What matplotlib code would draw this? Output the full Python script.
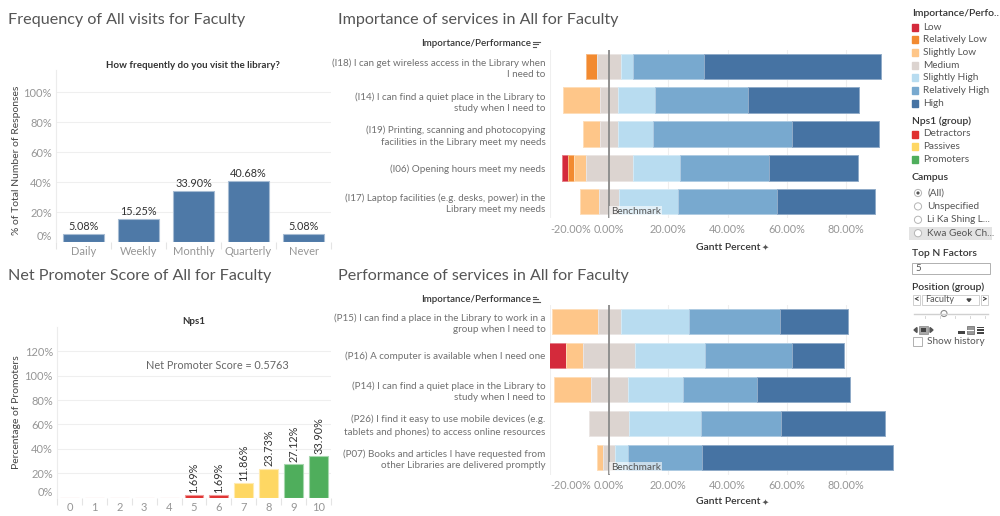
import matplotlib
matplotlib.use("Agg")
import matplotlib.pyplot as plt
import numpy as np
from matplotlib.patches import Rectangle, Circle, Polygon
from matplotlib.lines import Line2D
from matplotlib.transforms import blended_transform_factory

# ---------------- data ----------------
freq_categories = ["Daily", "Weekly", "Monthly", "Quarterly", "Never"]
freq_values = [5.08, 15.25, 33.90, 40.68, 5.08]

nps_scores = list(range(11))
nps_values = [0, 0, 0, 0, 0, 1.69, 1.69, 11.86, 23.73, 27.12, 33.90]
nps_groups = ["Detractors"] * 7 + ["Passives"] * 2 + ["Promoters"] * 2
nps_score_text = "0.5763"

levels = ["Low", "Relatively Low", "Slightly Low", "Medium",
          "Slightly High", "Relatively High", "High"]

importance_items = [
    "(I18) I can get wireless access in the Library when\nI need to",
    "(I14) I can find a quiet place in the Library to\nstudy when I need to",
    "(I19) Printing, scanning and photocopying\nfacilities in the Library meet my needs",
    "(I06) Opening hours meet my needs",
    "(I17) Laptop facilities (e.g. desks, power) in the\nLibrary meet my needs",
]
imp_low = [0, 0, 0, 2.0, 0]
imp_rel_low = [4.0, 0, 0, 2.0, 0]
imp_slightly_low = [0, 12.5, 5.88, 4.0, 6.67]
imp_medium = [8.0, 6.25, 5.88, 16.0, 6.67]
imp_slightly_high = [4.0, 12.5, 11.76, 16.0, 20.0]
imp_rel_high = [24.0, 31.25, 47.06, 30.0, 33.33]
imp_high = [60.0, 37.5, 29.41, 30.0, 33.33]

performance_items = [
    "(P15) I can find a place in the Library to work in a\ngroup when I need to",
    "(P16) A computer is available when I need one",
    "(P14) I can find a quiet place in the Library to\nstudy when I need to",
    "(P26) I find it easy to use mobile devices (e.g.\ntablets and phones) to access online resources",
    "(P07) Books and articles I have requested from\nother Libraries are delivered promptly",
]
perf_low = [0, 5.88, 0, 0, 0]
perf_rel_low = [0, 0, 0, 0, 0]
perf_slightly_low = [15.38, 5.88, 12.5, 0, 2.08]
perf_medium = [7.69, 17.65, 12.5, 13.51, 4.17]
perf_slightly_high = [23.08, 23.53, 18.75, 24.32, 4.17]
perf_rel_high = [30.77, 29.41, 25.0, 27.03, 25.0]
perf_high = [23.08, 17.65, 31.25, 35.14, 64.58]

gantt_ticks = [-20, 0, 20, 40, 60, 80]

# ---------------- style ----------------
level_colors = {
    "Low": "#d42a3b",
    "Relatively Low": "#f28a30",
    "Slightly Low": "#fec689",
    "Medium": "#dcd4d0",
    "Slightly High": "#b8dcf0",
    "Relatively High": "#78a9cf",
    "High": "#4673a3",
}
nps_colors = {"Detractors": "#e0302f", "Passives": "#fed763", "Promoters": "#4fae5c"}
BAR_BLUE = "#4e79a7"
TITLE_C = "#555555"
TICK_C = "#969696"
TEXT_C = "#333333"
GRID_C = "#efefef"

plt.rcParams["font.family"] = ["Lato", "DejaVu Sans"]

W, H = 1000, 516
fig = plt.figure(figsize=(10, 5.16), dpi=100)
fig.patch.set_facecolor("white")
bg = fig.add_axes([0, 0, 1, 1])
bg.set_xlim(0, W)
bg.set_ylim(H, 0)
bg.axis("off")


def px_axes(x0, y0, x1, y1):
    return fig.add_axes([x0 / W, 1 - y1 / H, (x1 - x0) / W, (y1 - y0) / H])


def lighten(c, f=0.45):
    r, g, b = matplotlib.colors.to_rgb(c)
    return (r + (1 - r) * f, g + (1 - g) * f, b + (1 - b) * f)


def clean(ax):
    for s in ax.spines.values():
        s.set_visible(False)
    ax.set_facecolor("none")


# ---------------- titles ----------------
title_fs = 11.6
bg.text(8, 20, "Frequency of All visits for Faculty", fontsize=title_fs, color=TITLE_C, va="center")
bg.text(338, 20, "Importance of services in All for Faculty", fontsize=title_fs, color=TITLE_C, va="center")
bg.text(8, 276, "Net Promoter Score of All for Faculty", fontsize=title_fs, color=TITLE_C, va="center")
bg.text(338, 276, "Performance of services in All for Faculty", fontsize=title_fs, color=TITLE_C, va="center")

# ---------------- frequency chart ----------------
ax1 = px_axes(56, 70, 331, 242)
clean(ax1)
x = np.arange(len(freq_categories))
ax1.bar(x, freq_values, width=0.74, color=BAR_BLUE, edgecolor=lighten(BAR_BLUE, 0.5), linewidth=0.8, zorder=3)
ax1.set_xlim(-0.5, len(freq_categories) - 0.5)
ax1.set_ylim(0, 115)
yt = [0, 20, 40, 60, 80, 100]
ax1.set_yticks(yt)
ax1.set_yticklabels([f"{v}%" for v in yt])
ax1.yaxis.grid(True, color=GRID_C, lw=0.8)
ax1.set_axisbelow(True)
ax1.set_xticks(x)
ax1.set_xticklabels(freq_categories)
ax1.tick_params(axis="both", length=0, labelsize=8, colors=TICK_C, pad=3)
ax1.yaxis.get_ticklabels()[0].set_va("bottom")
ax1.set_xticks(np.arange(-0.5, len(freq_categories)), minor=True)
ax1.tick_params(axis="x", which="minor", length=5, color="#e4e4e4", width=0.8)
ax1.spines["left"].set_visible(True)
ax1.spines["left"].set_color("#ececec")
for xi, v in zip(x, freq_values):
    ax1.text(xi, v + 1.5, f"{v:.2f}%", ha="center", va="bottom", fontsize=7.8, color=TEXT_C)
bg.text(193, 65, "How frequently do you visit the library?", ha="center", va="center",
        fontsize=7, fontweight="bold", color=TEXT_C)
bg.text(17, 160, "% of Total Number of Responses", rotation=90, ha="center", va="center",
        fontsize=7.5, color="#444444")

# ---------------- NPS chart ----------------
ax2 = px_axes(57, 327, 331, 497.5)
clean(ax2)
ax2.bar(nps_scores, nps_values, width=0.76,
        color=[nps_colors[g] for g in nps_groups],
        edgecolor=[lighten(nps_colors[g], 0.5) for g in nps_groups], linewidth=0.8, zorder=3)
ax2.set_xlim(-0.5, 10.5)
ax2.set_ylim(0, 140)
yt2 = [0, 20, 40, 60, 80, 100, 120]
ax2.set_yticks(yt2)
ax2.set_yticklabels([f"{v}%" for v in yt2])
ax2.yaxis.grid(True, color=GRID_C, lw=0.8)
ax2.set_axisbelow(True)
ax2.set_xticks(nps_scores)
ax2.set_xticklabels([str(s) for s in nps_scores])
ax2.tick_params(axis="both", length=0, labelsize=8, colors=TICK_C, pad=3)
ax2.yaxis.get_ticklabels()[0].set_va("bottom")
ax2.set_xticks(np.arange(-0.5, 11), minor=True)
ax2.tick_params(axis="x", which="minor", length=5, color="#e4e4e4", width=0.8)
ax2.spines["left"].set_visible(True)
ax2.spines["left"].set_color("#ececec")
for s, v in zip(nps_scores, nps_values):
    if v > 0:
        ax2.text(s, v + 2, f"{v:.2f}%", ha="center", va="bottom", rotation=90,
                 fontsize=7.8, color=TEXT_C)
ax2.text(5.95, 108, f"Net Promoter Score = {nps_score_text}", ha="center", va="center",
         fontsize=7.8, color="#666666")
bg.text(194, 321, "Nps1", ha="center", va="center", fontsize=7, fontweight="bold", color=TEXT_C)
bg.text(17, 412, "Percentage of Promoters", rotation=90, ha="center", va="center",
        fontsize=7.5, color="#444444")


# ---------------- gantt charts ----------------
def draw_gantt(ax, items, series):
    clean(ax)
    n = len(items)
    y = np.arange(n)
    neg = np.array(series["Low"]) + np.array(series["Relatively Low"]) + np.array(series["Slightly Low"])
    left = -(neg + np.array(series["Medium"]) / 2.0)
    for lvl in levels:
        w = np.array(series[lvl], dtype=float)
        mask = w > 0
        ax.barh(y[mask], w[mask], left=left[mask], height=0.76, color=level_colors[lvl],
                edgecolor=lighten(level_colors[lvl], 0.4), linewidth=0.7, zorder=3)
        left = left + w
    ax.set_xlim(-20, 100)
    ax.set_ylim(n - 0.5, -0.5)
    ax.set_yticks(y)
    ax.set_yticklabels(items, linespacing=1.35)
    ax.set_xticks(gantt_ticks)
    ax.set_xticklabels([f"{t:.2f}%" for t in gantt_ticks])
    ax.xaxis.grid(True, color=GRID_C, lw=0.8)
    ax.set_axisbelow(True)
    ax.tick_params(axis="y", length=0, labelsize=7.1, colors="#707070", pad=3)
    ax.tick_params(axis="x", length=0, labelsize=7.8, colors=TICK_C, pad=4)
    ax.xaxis.get_ticklabels()[0].set_ha("left")
    ax.axvline(0, color="#8a8a8a", lw=1.3, zorder=5)
    tr = blended_transform_factory(ax.transData, ax.transAxes)
    ax.text(0.6, 0.012, "Benchmark", transform=tr, ha="left", va="bottom", fontsize=7.2,
            color="#555555", zorder=6,
            bbox=dict(boxstyle="square,pad=0.15", fc="white", ec="none", alpha=0.6))


ax3 = px_axes(550, 49.6, 905, 218.4)
draw_gantt(ax3, importance_items, {
    "Low": imp_low, "Relatively Low": imp_rel_low, "Slightly Low": imp_slightly_low,
    "Medium": imp_medium, "Slightly High": imp_slightly_high,
    "Relatively High": imp_rel_high, "High": imp_high})

ax4 = px_axes(550, 304.5, 905, 474.5)
draw_gantt(ax4, performance_items, {
    "Low": perf_low, "Relatively Low": perf_rel_low, "Slightly Low": perf_slightly_low,
    "Medium": perf_medium, "Slightly High": perf_slightly_high,
    "Relatively High": perf_rel_high, "High": perf_high})

for yy in (44, 299):
    bg.text(476, yy, "Importance/Performance", ha="center", va="center", fontsize=7,
            color=TEXT_C, fontweight="semibold")
# sort icons
for (yy, lens) in ((44, (7, 5, 3)), (299, (3, 5, 7))):
    for i, L in enumerate(lens):
        bg.add_line(Line2D([533, 533 + L], [yy - 2.5 + 2.5 * i] * 2, color="#555555", lw=0.8))

for yy in (247, 502):
    bg.text(728, yy, "Gantt Percent", ha="center", va="center", fontsize=7.5,
            color=TEXT_C, fontweight="semibold")
    bg.text(765, yy, "\u2726", ha="center", va="center", fontsize=6, color="#555555",
            family="DejaVu Sans")

# ---------------- legend panel ----------------
LX = 912
bg.text(LX, 14, "Importance/Perfo..", fontsize=7.5, color=TEXT_C, va="center", fontweight="semibold")
for i, lvl in enumerate(levels):
    yy = 27 + i * 12.7
    bg.add_patch(Rectangle((LX, yy - 3.5), 6, 7, color=level_colors[lvl]))
    bg.text(LX + 11, yy, lvl, fontsize=7.2, color="#555555", va="center")

bg.text(LX, 121, "Nps1 (group)", fontsize=7.5, color=TEXT_C, va="center", fontweight="semibold")
for i, g in enumerate(["Detractors", "Passives", "Promoters"]):
    yy = 134 + i * 12.5
    bg.add_patch(Rectangle((LX, yy - 3.5), 6, 7, color=nps_colors[g]))
    bg.text(LX + 11, yy, g, fontsize=7.2, color="#555555", va="center")

bg.text(LX, 177, "Campus", fontsize=7.5, color=TEXT_C, va="center", fontweight="semibold")
bg.add_patch(Rectangle((909, 227), 83, 13, color="#e3e3e3", lw=0))
campus_opts = ["(All)", "Unspecified", "Li Ka Shing L...", "Kwa Geok Ch..."]
for i, c in enumerate(campus_opts):
    yy = 193 + i * 13.4
    bg.add_patch(Circle((918, yy), 3.6, fc="white", ec="#b5b5b5", lw=0.7))
    if i == 0:
        bg.add_patch(Circle((918, yy), 1.6, fc="#555555", ec="none"))
    bg.text(927, yy, c, fontsize=7.2, color="#555555", va="center")

bg.text(LX, 254, "Top N Factors", fontsize=7.5, color=TEXT_C, va="center", fontweight="semibold")
bg.add_patch(Rectangle((912, 263), 78, 11, fc="white", ec="#b0b0b0", lw=0.7))
bg.text(915, 268.5, "5", fontsize=7, color="#555555", va="center")

bg.text(LX, 287, "Position (group)", fontsize=7.5, color=TEXT_C, va="center", fontweight="semibold")
bg.add_patch(Rectangle((913, 295), 7, 10, fc="white", ec="#c8c8c8", lw=0.6))
bg.text(916.5, 300, "<", fontsize=7, color="#333333", ha="center", va="center", fontweight="bold")
bg.add_patch(Rectangle((922, 295), 57, 10, fc="white", ec="#c8c8c8", lw=0.6))
bg.text(925, 300, "Faculty", fontsize=6.5, color="#555555", va="center")
bg.add_patch(Polygon([[967, 299], [971, 299], [969, 301.5]], closed=True, color="#444444"))
bg.add_patch(Rectangle((981, 295), 7, 10, fc="white", ec="#c8c8c8", lw=0.6))
bg.text(984.5, 300, ">", fontsize=7, color="#333333", ha="center", va="center", fontweight="bold")
bg.add_line(Line2D([914, 988], [314, 314], color="#d0d0d0", lw=1.0))
for tx in (925, 940, 955, 970, 985):
    bg.add_line(Line2D([tx, tx], [316, 318], color="#d0d0d0", lw=0.6))
bg.add_patch(Circle((944, 313.5), 3, fc="white", ec="#8a8a8a", lw=0.8))
# player controls
bg.add_patch(Polygon([[914, 330], [917, 327.5], [917, 332.5]], closed=True, color="#555555"))
bg.add_patch(Rectangle((919, 326), 9, 8, fc="#a8a8a8", ec="#888888", lw=0.5))
bg.add_patch(Rectangle((921, 328), 5, 4, fc="#444444", ec="none"))
bg.add_patch(Polygon([[930, 327.5], [930, 332.5], [933, 330]], closed=True, color="#555555"))
bg.add_patch(Rectangle((958, 331), 7, 2.5, fc="#444444", ec="none"))
bg.add_patch(Rectangle((967, 326), 7, 8, fc="#999999", ec="#666666", lw=0.5))
bg.add_patch(Rectangle((967, 329.5), 7, 1, fc="white", ec="none"))
for k in range(3):
    bg.add_patch(Rectangle((977, 326.5 + k * 2.8), 7, 1.8, fc="#444444", ec="none"))
bg.add_patch(Rectangle((913, 337), 9, 9, fc="white", ec="#b0b0b0", lw=0.7))
bg.text(927, 342, "Show history", fontsize=7.2, color="#555555", va="center")

fig.savefig("out.png", dpi=100, facecolor="white")
